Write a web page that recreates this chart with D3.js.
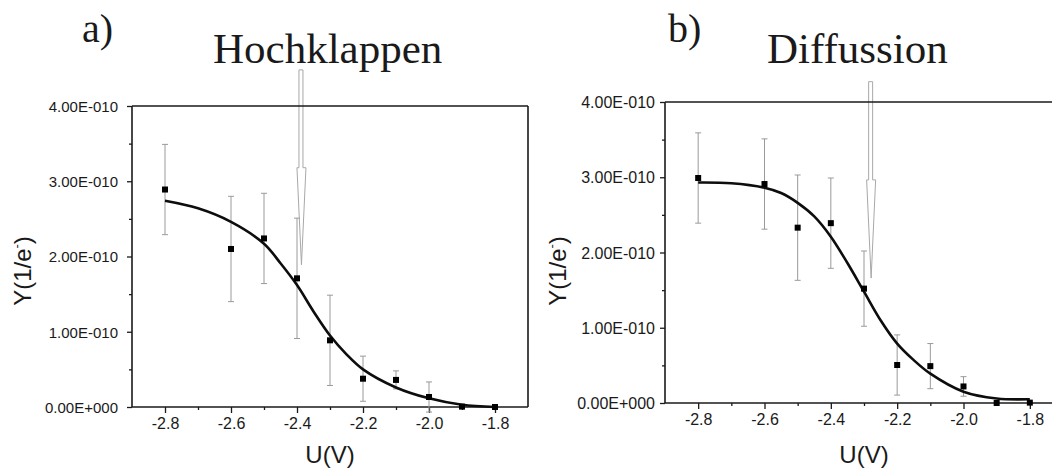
<!DOCTYPE html>
<html>
<head>
<meta charset="utf-8">
<script src="https://cdn.jsdelivr.net/npm/d3@7"></script>
<style>
  html, body { margin: 0; padding: 0; background: #fff; }
  svg { display: block; }
</style>
</head>
<body>
<svg id="chart" width="1052" height="468"></svg>
<script>
// ---- data (Y values in units of 1e-10 1/e-) ----
const voltages = [-2.8, -2.6, -2.5, -2.4, -2.3, -2.2, -2.1, -2.0, -1.9, -1.8];

const hochValues = [2.89, 2.10, 2.24, 1.71, 0.886, 0.376, 0.36, 0.133, 0.005, 0.0];
const hochErrors = [0.60, 0.70, 0.60, 0.80, 0.60, 0.30, 0.12, 0.20, 0, 0];
const hochFitU = [-2.8, -2.7, -2.6, -2.5, -2.45, -2.4, -2.35, -2.3, -2.25, -2.2, -2.1, -2.0, -1.9, -1.8];
const hochFitY = [2.74, 2.64, 2.46, 2.17, 1.91, 1.62, 1.27, 0.95, 0.70, 0.50, 0.26, 0.115, 0.03, 0.0];

const diffValues = [2.99, 2.91, 2.33, 2.39, 1.52, 0.505, 0.49, 0.22, 0.0, 0.005];
const diffErrors = [0.60, 0.60, 0.70, 0.60, 0.50, 0.40, 0.30, 0.13, 0, 0];
const diffFitU = [-2.8, -2.7, -2.6, -2.55, -2.5, -2.45, -2.4, -2.35, -2.3, -2.25, -2.2, -2.15, -2.1, -2.0, -1.9, -1.8];
const diffFitY = [2.93, 2.92, 2.86, 2.79, 2.66, 2.48, 2.21, 1.86, 1.48, 1.10, 0.79, 0.57, 0.39, 0.15, 0.06, 0.05];

const xMajorTicks = [-2.8, -2.6, -2.4, -2.2, -2.0, -1.8];
const xMinorTicks = [-2.7, -2.5, -2.3, -2.1, -1.9];
const xTickLabels = ["-2.8", "-2.6", "-2.4", "-2.2", "-2.0", "-1.8"];
const yMajorTicks = [0, 1, 2, 3, 4];
const yMinorTicks = [0.5, 1.5, 2.5, 3.5];
const yTickLabels = ["0.00E+000", "1.00E-010", "2.00E-010", "3.00E-010", "4.00E-010"];

const panelLetters = ["a)", "b)"];
const panelTitles = ["Hochklappen", "Diffussion"];
const xAxisTitle = "U(V)";

// arrow annotations: [U, top Y, neck Y, tip Y]
const hochArrow = [-2.388, 4.48, 3.18, 1.89];
const diffArrow = [-2.280, 4.27, 2.965, 1.66];

// ---- drawing ----
const svg = d3.select("#chart");
const ink = "#1a1a1a";

function drawPanel(cfg) {
  const x = d3.scaleLinear().domain([-2.9, -1.7]).range([cfg.x0, cfg.x1]);
  const y = d3.scaleLinear().domain([0, 4]).range([cfg.y0, cfg.y1]);
  const g = svg.append("g");

  // arrow (drawn first, frame passes over it)
  const [au, aTop, aNeck, aTip] = cfg.arrow;
  const ax = x(au), sw = 2, hw = 5;
  const arrowPath = `M${ax - sw},${y(aTop)} L${ax + sw},${y(aTop)} L${ax + sw},${y(aNeck)}
    L${ax + hw},${y(aNeck)} L${ax + 0.5},${y(aTip)} L${ax - hw + 1},${y(aNeck)} L${ax - sw},${y(aNeck)} Z`;
  g.append("path").attr("d", arrowPath)
    .attr("fill", "#fff").attr("stroke", "#a8a8a8").attr("stroke-width", 1);

  // axes
  const xAxis = d3.axisBottom(x).tickValues(xMajorTicks)
    .tickFormat((d, i) => xTickLabels[i]).tickSize(6).tickSizeOuter(0).tickPadding(5);
  const xMinor = d3.axisBottom(x).tickValues(xMinorTicks).tickFormat("").tickSize(3).tickSizeOuter(0);
  const yAxis = d3.axisLeft(y).tickValues(yMajorTicks)
    .tickFormat((d, i) => yTickLabels[i]).tickSize(5).tickSizeOuter(0).tickPadding(cfg.yPad);
  const yMinor = d3.axisLeft(y).tickValues(yMinorTicks).tickFormat("").tickSize(3).tickSizeOuter(0);

  const gx = g.append("g").attr("transform", `translate(0,${cfg.y0})`).call(xAxis);
  const gxm = g.append("g").attr("transform", `translate(0,${cfg.y0})`).call(xMinor);
  const gy = g.append("g").attr("transform", `translate(${cfg.x0},0)`).call(yAxis);
  const gym = g.append("g").attr("transform", `translate(${cfg.x0},0)`).call(yMinor);
  [gx, gxm, gy, gym].forEach(a => {
    a.select(".domain").remove();
    a.selectAll("line").attr("stroke", ink).attr("stroke-width", 1.3);
    a.selectAll("text").attr("fill", ink).attr("font-family", "Liberation Sans, Arial, sans-serif");
  });
  gx.selectAll("text").attr("font-size", 16);
  gy.selectAll("text").attr("font-size", cfg.yFont).attr("dy", "0.35em");

  // frame
  const xr = Math.min(cfg.x1, 1052);
  g.append("line").attr("x1", cfg.x0).attr("x2", xr).attr("y1", cfg.y0).attr("y2", cfg.y0)
    .attr("stroke", ink).attr("stroke-width", 1.6);
  g.append("line").attr("x1", cfg.x0).attr("x2", xr).attr("y1", cfg.y1).attr("y2", cfg.y1)
    .attr("stroke", ink).attr("stroke-width", 1.6);
  g.append("line").attr("x1", cfg.x0).attr("x2", cfg.x0).attr("y1", cfg.y0).attr("y2", cfg.y1)
    .attr("stroke", ink).attr("stroke-width", 1.6);
  if (cfg.x1 <= 1052) {
    g.append("line").attr("x1", cfg.x1).attr("x2", cfg.x1).attr("y1", cfg.y0).attr("y2", cfg.y1)
      .attr("stroke", ink).attr("stroke-width", 1.6);
  }

  // error bars
  const pts = voltages.map((u, i) => ({ u, v: cfg.values[i], e: cfg.errors[i] }));
  const eb = g.append("g").attr("stroke", "#9a9a9a").attr("stroke-width", 1);
  pts.filter(d => d.e > 0).forEach(d => {
    const px = x(d.u);
    eb.append("line").attr("x1", px).attr("x2", px).attr("y1", y(d.v - d.e)).attr("y2", y(d.v + d.e));
    [d.v - d.e, d.v + d.e].forEach(v => {
      eb.append("line").attr("x1", px - 3).attr("x2", px + 3).attr("y1", y(v)).attr("y2", y(v));
    });
  });

  // fit curve
  const line = d3.line().x(d => x(d[0])).y(d => y(d[1])).curve(d3.curveCatmullRom.alpha(0.5));
  g.append("path").datum(cfg.fitU.map((u, i) => [u, cfg.fitY[i]]))
    .attr("d", line).attr("fill", "none").attr("stroke", "#0d0d0d").attr("stroke-width", 2.6);

  // markers
  g.selectAll(".pt").data(pts).enter().append("rect")
    .attr("x", d => x(d.u) - 3).attr("y", d => y(d.v) - 3)
    .attr("width", 6).attr("height", 6).attr("fill", "#000");

  // titles
  g.append("text").text(cfg.letter).attr("x", cfg.letterX).attr("y", 42)
    .attr("font-family", "Liberation Serif, Times New Roman, serif").attr("font-size", 40).attr("fill", ink);
  g.append("text").text(cfg.title).attr("x", cfg.titleX).attr("y", 63)
    .attr("font-family", "Liberation Serif, Times New Roman, serif").attr("font-size", 43).attr("fill", ink);

  // axis titles
  g.append("text").text(xAxisTitle).attr("x", (x(-2.8) + x(-1.8)) / 2).attr("y", 463)
    .attr("text-anchor", "middle").attr("font-family", "Liberation Sans, Arial, sans-serif")
    .attr("font-size", 24).attr("fill", ink);
  const yt = g.append("text").attr("transform", `translate(${cfg.yLabelX},271) rotate(-90)`)
    .attr("text-anchor", "middle").attr("font-family", "Liberation Sans, Arial, sans-serif")
    .attr("font-size", 24).attr("fill", ink);
  yt.append("tspan").text("Y(1/e");
  yt.append("tspan").text("-").attr("font-size", 13).attr("dy", -10);
  yt.append("tspan").text(")").attr("dy", 10);
}

drawPanel({
  x0: 132, x1: 528, y0: 407, y1: 106,
  values: hochValues, errors: hochErrors, fitU: hochFitU, fitY: hochFitY,
  arrow: hochArrow, letter: panelLetters[0], title: panelTitles[0],
  letterX: 82, titleX: 213, yLabelX: 31, yFont: 15, yPad: 9
});
drawPanel({
  x0: 665, x1: 1063, y0: 403, y1: 102,
  values: diffValues, errors: diffErrors, fitU: diffFitU, fitY: diffFitY,
  arrow: diffArrow, letter: panelLetters[1], title: panelTitles[1],
  letterX: 668, titleX: 767, yLabelX: 566, yFont: 16, yPad: 5
});
</script>
</body>
</html>
